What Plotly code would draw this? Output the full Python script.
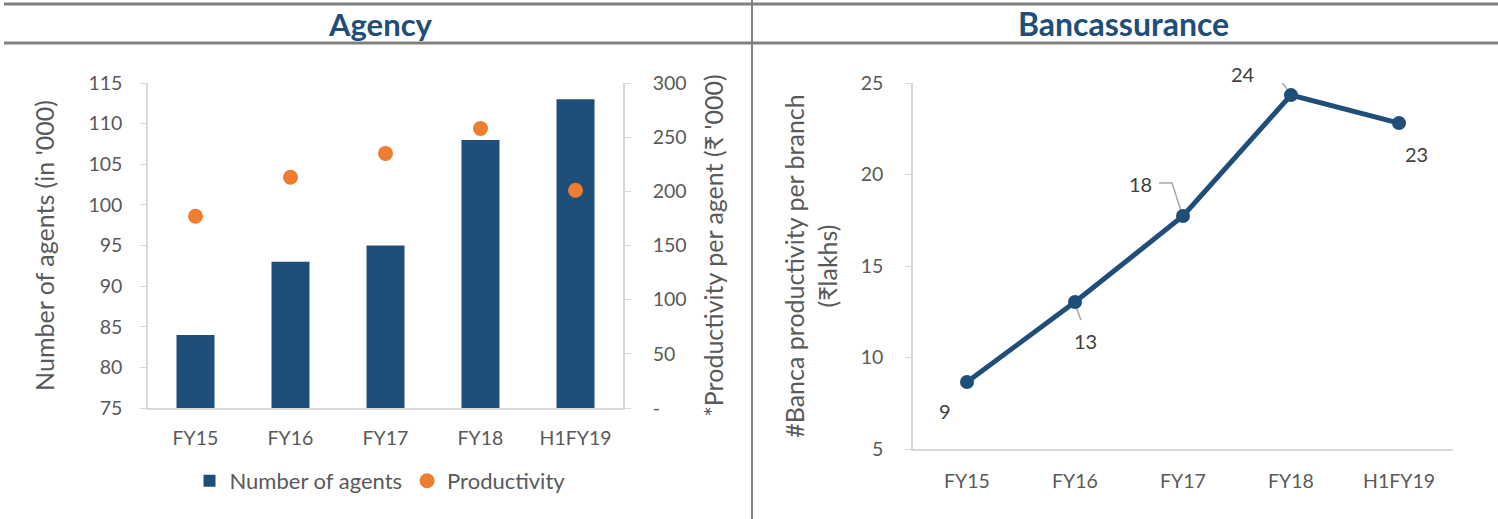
import plotly.graph_objects as go

# ---- data ----
categories = ["FY15", "FY16", "FY17", "FY18", "H1FY19"]
agents = [84, 93, 95, 108, 113]              # Number of agents (in '000)
productivity = [177, 213, 235, 258, 201]     # Productivity per agent (₹ '000)
banca = [8.66, 13.03, 17.73, 24.34, 22.81]   # Banca productivity per branch (₹ lakhs)
banca_labels = [f"{v:.0f}" for v in banca]

agent_ticks = [75, 80, 85, 90, 95, 100, 105, 110, 115]
prod_ticks = [0, 50, 100, 150, 200, 250, 300]
prod_ticktext = ["-" if t == 0 else str(t) for t in prod_ticks]
banca_ticks = [5, 10, 15, 20, 25]

W, H = 1498, 519
BLUE = "#1F4E79"
ORANGE = "#ED7D31"
GRID = "#D9D9D9"
TXT = "#595959"
FONT = "Lato, Open Sans, sans-serif"


def px(x):
    return x / W


def py(y):
    return 1 - y / H


fig = go.Figure()

fig.add_trace(go.Bar(
    x=categories, y=agents, name="Number of agents",
    marker=dict(color=BLUE, line=dict(width=0)),
    width=0.4, xaxis="x", yaxis="y",
))
fig.add_trace(go.Scatter(
    x=categories, y=productivity, name="Productivity", mode="markers",
    marker=dict(color=ORANGE, size=15, symbol="circle"),
    xaxis="x", yaxis="y2",
))
fig.add_trace(go.Scatter(
    x=categories, y=banca, name="Banca", mode="lines+markers",
    line=dict(color=BLUE, width=5), marker=dict(color=BLUE, size=14),
    xaxis="x2", yaxis="y3", showlegend=False,
))

axis_common = dict(
    showgrid=False, zeroline=False, showline=True, linecolor=GRID, linewidth=1.5,
    tickfont=dict(family=FONT, size=19.5, color=TXT), fixedrange=True,
    automargin=False,
)
title_font = dict(family=FONT, size=25, color=TXT)
cat_range = [-0.5, len(categories) - 0.5]

fig.update_layout(
    width=W, height=H,
    margin=dict(l=0, r=0, t=0, b=0, pad=0, autoexpand=False),
    paper_bgcolor="white", plot_bgcolor="white",
    font=dict(family=FONT, color=TXT),
    xaxis=dict(domain=[px(148), px(623)], anchor="y", range=cat_range, ticks="",
               ticklabelstandoff=12, **axis_common),
    yaxis=dict(domain=[py(408), py(83)], anchor="x", range=[75, 115],
               tickvals=agent_ticks, ticks="outside", ticklen=6, tickcolor=GRID,
               ticklabelstandoff=14,
               title=dict(text="Number of agents (in '000)", standoff=27, font=title_font),
               **axis_common),
    yaxis2=dict(overlaying="y", side="right", anchor="x", range=[0, 300],
                tickvals=prod_ticks, ticktext=prod_ticktext,
                ticks="outside", ticklen=6, tickcolor=GRID, ticklabelstandoff=18,
                title=dict(text="*Productivity per agent (₹ '000)", standoff=20, font=title_font),
                **axis_common),
    xaxis2=dict(domain=[px(913), px(1453)], anchor="y3", range=cat_range, ticks="",
                ticklabelstandoff=14, **axis_common),
    yaxis3=dict(domain=[py(449), py(83)], anchor="x2", range=[5, 25],
                tickvals=banca_ticks, ticks="outside", ticklen=6, tickcolor=GRID,
                ticklabelstandoff=18,
                title=dict(text="#Banca productivity per branch<br>(₹lakhs)", standoff=16,
                           font=title_font),
                **axis_common),
    legend=dict(orientation="h", x=px(380), y=py(481), xanchor="center", yanchor="middle",
                font=dict(family=FONT, size=22, color=TXT), itemwidth=30,
                traceorder="normal"),
    showlegend=True,
)

# section header lines
shapes = [
    dict(type="line", xref="paper", yref="paper", x0=px(4), x1=1, y0=py(4), y1=py(4),
         line=dict(color="#808080", width=3)),
    dict(type="line", xref="paper", yref="paper", x0=px(4), x1=1, y0=py(43), y1=py(43),
         line=dict(color="#808080", width=3)),
    dict(type="line", xref="paper", yref="paper", x0=px(752), x1=px(752), y0=0, y1=1,
         line=dict(color="#808080", width=2)),
]

annotations = [
    dict(text="<b>Agency</b>", xref="paper", yref="paper", x=px(380), y=py(24),
         showarrow=False, font=dict(family=FONT, size=31, color=BLUE),
         xanchor="center", yanchor="middle"),
    dict(text="<b>Bancassurance</b>", xref="paper", yref="paper", x=px(1123), y=py(24),
         showarrow=False, font=dict(family=FONT, size=32, color=BLUE),
         xanchor="center", yanchor="middle"),
]

# data labels for the banca line: text offset (px, +y = down) and leader path (px, +y = up)
label_style = [
    ((-22, 29), None),
    ((10, 39), "M 1,-5 L 6,-18"),
    ((-43, -32), "M -24,33 L -11,33 L -1,2"),
    ((-48, -21), "M -28,22 L -16,22 L -1,2"),
    ((17, 31), None),
]
for cat, val, lab, ((dx, dy), path) in zip(categories, banca, banca_labels, label_style):
    annotations.append(dict(
        x=cat, y=val, xref="x2", yref="y3", text=lab, showarrow=False,
        xshift=dx, yshift=-dy, xanchor="center", yanchor="middle",
        font=dict(family=FONT, size=20, color="#404040"),
    ))
    if path:
        shapes.append(dict(
            type="path", xref="x2", yref="y3", xsizemode="pixel", ysizemode="pixel",
            xanchor=cat, yanchor=val, path=path,
            line=dict(color="#A6A6A6", width=1.5), layer="below",
        ))

fig.update_layout(shapes=shapes, annotations=annotations)

fig.write_html("out.html")
